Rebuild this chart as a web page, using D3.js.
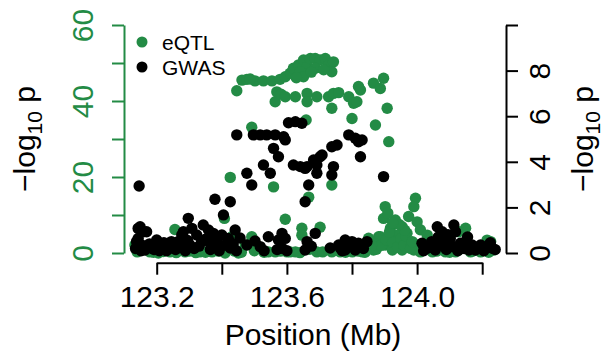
<!DOCTYPE html>
<html><head><meta charset="utf-8">
<script src="https://cdn.jsdelivr.net/npm/d3@7"></script>
<style>body{margin:0;background:#fff}svg{display:block;font-family:"Liberation Sans",Arial,sans-serif}</style>
</head><body><svg id="c" width="604" height="353"></svg>
<script>
// eQTL: position (Mb) and -log10 p (left axis)
const eqtlPos = [123.446,123.462,123.477,123.502,123.528,123.554,123.579,123.595,123.610,123.620,123.636,123.651,123.662,123.672,123.687,123.702,123.718,123.728,123.743,123.738,123.641,123.651,123.687,123.713,123.487,123.629,123.675,
123.564,123.569,123.582,123.595,123.626,123.662,123.662,123.692,123.728,123.743,123.759,123.738,123.790,123.805,123.815,123.820,123.826,123.800,123.866,123.887,123.897,123.908,123.872,123.913,123.659,123.492,
123.426,123.559,123.667,123.738,123.595,123.256,123.408,123.995,123.990,123.902,123.897,123.933,123.974,124.000,123.918,123.954,123.882,123.938,123.969,124.010,124.031,123.902,123.938,123.974,123.954,123.866,123.990,124.149,124.128,124.226,124.087,123.851,123.702,123.646,123.646,123.692,123.492,123.543,123.600,123.738,123.431,123.472,123.143,123.205,123.410,123.451,124.215,123.887,123.924,
123.179,123.241,123.287,123.333,123.370,123.518,123.564,123.626,123.764,123.801,123.832,124.010,124.047,124.118,124.164,124.195,124.235,123.133,123.918,123.995,124.041,123.872,
123.875,123.890,123.905,123.915,123.925,123.940,123.950,123.960,123.965,123.980,123.985,123.962,123.945,123.925,123.910,124.020,123.860,
123.140,123.160,123.190,123.220,123.260,123.300,123.320,123.350,123.390,123.420,123.440,123.460,123.500,123.530,123.580,123.610,123.640,123.670,123.710,123.750,123.780,123.820,123.840,124.060,124.100,124.130,124.170,124.200,124.220];
const eqtlP = [42.7,45.5,45.7,45.3,45.3,45.3,45.7,46.4,47.3,48.6,49.5,50.8,49.0,51.2,51.2,50.8,51.2,49.5,50.3,47.7,47.7,46.4,48.6,48.2,45.8,46.1,47.6,
39.8,42.4,41.8,41.1,41.1,42.0,39.8,41.1,41.1,42.0,42.2,38.1,41.1,39.4,39.8,43.8,42.9,35.4,44.7,43.3,46.0,38.1,33.7,29.3,35.0,33.1,
19.9,17.4,14.7,17.9,8.9,6.2,9.1,14.4,12.2,12.2,9.1,8.7,9.6,8.2,6.5,6.9,4.3,4.7,5.2,6.1,4.7,2.1,2.6,3.0,0.8,0.8,0.8,6.5,5.6,3.0,0.3,3.9,6.8,6.5,4.7,0.3,4.3,0.3,0.3,0.3,4.3,2.1,0.8,0.0,0.0,0.0,3.4,4.3,0.8,
0.3,0.3,0.3,0.3,0.3,1.3,0.3,0.3,0.3,0.3,0.3,0.3,0.3,0.3,0.3,0.3,0.8,2.1,3.4,2.1,1.3,2.4,
1.0,2.0,3.5,5.5,2.8,1.5,3.8,2.0,4.5,1.2,3.0,6.0,7.5,8.0,10.5,2.5,2.0,
0.3,1.0,0.2,0.4,0.1,0.5,0.1,0.2,0.5,0.9,0.5,0.2,0.6,0.2,0.5,0.3,0.1,1.0,0.3,0.8,0.2,0.5,0.2,0.5,0.2,0.9,0.5,1.0,0.2];
// GWAS: position (Mb) and -log10 p (right axis)
const gwasPos = [123.146,123.446,123.497,123.518,123.538,123.564,123.590,123.595,123.605,123.626,123.646,123.559,123.738,123.754,123.790,123.810,123.831,123.574,123.528,123.477,123.492,123.549,123.620,123.641,123.662,123.682,123.692,123.708,123.667,123.656,123.379,123.426,123.143,123.297,123.820,123.826,123.897,123.702,123.692,123.656,123.743,123.738,123.405,
123.149,123.169,123.143,123.154,123.200,123.215,123.236,123.266,123.282,123.308,123.323,123.343,123.359,123.374,123.400,123.420,123.441,123.302,123.338,123.364,123.251,123.185,123.164,123.477,123.518,123.543,123.574,123.585,123.595,123.585,123.662,123.687,123.656,123.759,123.779,123.800,123.820,123.779,123.810,123.846,
124.015,124.031,124.062,124.077,124.113,124.118,124.102,124.087,124.072,124.056,124.108,124.133,124.149,124.138,124.169,124.179,124.195,124.215,124.231,124.159,123.277,123.159,123.138,123.382,123.426,123.456,123.502,123.733,123.764,123.795,
123.135,123.152,123.178,123.192,123.208,123.222,123.230,123.245,123.258,123.272,123.288,123.295,123.315,123.330,123.350,123.365,123.385,123.392,123.410,123.435,123.445,
124.020,124.045,124.065,124.090,124.095,124.125,124.145,124.155,124.185,124.205,124.225,124.240,
123.600,123.570,123.530,123.675,123.770,123.790,123.815,123.835];
const gwasP = [2.94,5.18,5.18,5.18,5.18,5.18,5.10,4.96,5.71,5.76,5.69,4.59,4.66,4.74,5.18,5.03,4.96,4.22,3.86,3.50,2.98,3.50,3.86,3.79,3.79,4.08,3.50,4.30,2.98,2.25,2.36,2.25,1.08,1.52,4.88,4.22,3.35,4.22,3.86,3.71,3.79,3.42,1.67,
1.15,0.93,0.64,0.35,0.57,0.35,0.28,0.50,0.93,1.08,0.79,1.23,1.01,0.86,0.79,0.64,1.01,0.35,0.50,0.43,0.21,0.21,0.13,0.35,0.28,0.71,0.57,0.86,0.64,0.21,0.50,0.86,0.13,0.35,0.57,0.50,0.43,0.13,0.13,0.50,
0.43,0.21,1.15,0.93,1.23,0.93,0.64,0.50,0.35,0.13,0.28,0.43,0.50,0.21,0.35,0.13,0.35,0.28,0.21,0.13,0.79,0.93,0.50,0.26,0.22,0.66,0.53,0.22,0.22,0.31,
0.20,0.10,0.40,0.15,0.10,0.45,0.10,0.50,0.15,0.30,0.10,0.55,0.20,0.30,0.60,0.15,0.50,0.10,0.35,0.40,0.10,
0.10,0.50,0.70,0.15,0.80,0.10,0.20,0.70,0.20,0.10,0.45,0.15,
0.10,0.15,0.10,0.30,0.10,0.40,0.30,0.20];
const xTicks = [123.2,123.4,123.6,123.8,124.0,124.2];
const xLabels = [123.2,123.6,124.0];
const leftTicks = [0,10,20,30,40,50,60];
const leftLabels = [0,20,40,60];
const rightTicks = [0,2,4,6,8,10];
const rightLabels = [0,2,4,6,8];
const legendItems = ["eQTL","GWAS"];

const GREEN = "#238b45";
const svg = d3.select("#c");
const x = d3.scaleLinear().domain([123.2,124.2]).range([156.7,482.2]);
const yL = d3.scaleLinear().domain([0,60]).range([253,25]);
const yR = d3.scaleLinear().domain([0,10]).range([253,25]);
const R = 5.7;

// points
svg.append("g").selectAll("circle").data(d3.range(eqtlPos.length)).join("circle")
  .attr("cx", i=>x(eqtlPos[i])).attr("cy", i=>yL(eqtlP[i])).attr("r", R).attr("fill", GREEN);
svg.append("g").selectAll("circle").data(d3.range(gwasPos.length)).join("circle")
  .attr("cx", i=>x(gwasPos[i])).attr("cy", i=>yR(gwasP[i])).attr("r", R).attr("fill", "#000");

function style(g, color){
  g.selectAll("path,line").attr("stroke", color).attr("stroke-width", 2);
  g.selectAll("text").attr("fill", color).style("font-size","30px").style("font-family",'"Liberation Sans",Arial,sans-serif');
}
// x axis
const gx = svg.append("g").attr("transform","translate(0,262.7)")
  .call(d3.axisBottom(x).tickValues(xTicks).tickSize(12).tickSizeOuter(0)
    .tickFormat(d => xLabels.some(v=>Math.abs(v-d)<1e-9) ? d3.format(".1f")(d) : ""));
style(gx, "#000");
gx.selectAll("text").attr("y", 44).attr("dy", 0);

// left axis
const gl = svg.append("g").attr("transform","translate(124,0)")
  .call(d3.axisLeft(yL).tickValues(leftTicks).tickSize(12).tickSizeOuter(0)
    .tickFormat(d => leftLabels.includes(d) ? String(d) : ""));
style(gl, GREEN);
gl.selectAll("text").attr("x",0).attr("dy",0).attr("text-anchor","middle").attr("transform","translate(-30.7,0) rotate(-90)");

// right axis
const gr = svg.append("g").attr("transform","translate(506,0)")
  .call(d3.axisRight(yR).tickValues(rightTicks).tickSize(12).tickSizeOuter(0)
    .tickFormat(d => rightLabels.includes(d) ? String(d) : ""));
style(gr, "#000");
gr.selectAll("text").attr("x",0).attr("dy",0).attr("text-anchor","middle").attr("transform","translate(44,0) rotate(-90)");

// axis titles
function ylab(tx){
  const t = svg.append("text").attr("transform",`translate(${tx},139) rotate(-90)`)
    .attr("text-anchor","middle").style("font-size","30px").attr("fill","#000");
  t.append("tspan").text("\u2212log");
  t.append("tspan").text("10").style("font-size","21px").attr("dy", 7);
  t.append("tspan").text(" p").attr("dy", -7);
}
ylab(35);
ylab(593);
svg.append("text").attr("x",313).attr("y",345).attr("text-anchor","middle")
  .style("font-size","30px").text("Position (Mb)");

// legend
const lg = svg.append("g");
legendItems.forEach((name,i)=>{
  const yy = 42 + i*25;
  lg.append("circle").attr("cx",142).attr("cy",yy).attr("r",5.5).attr("fill", i===0?GREEN:"#000");
  lg.append("text").attr("x",162).attr("y",yy).attr("dy","0.36em").style("font-size","21px").text(name);
});
</script></body></html>
